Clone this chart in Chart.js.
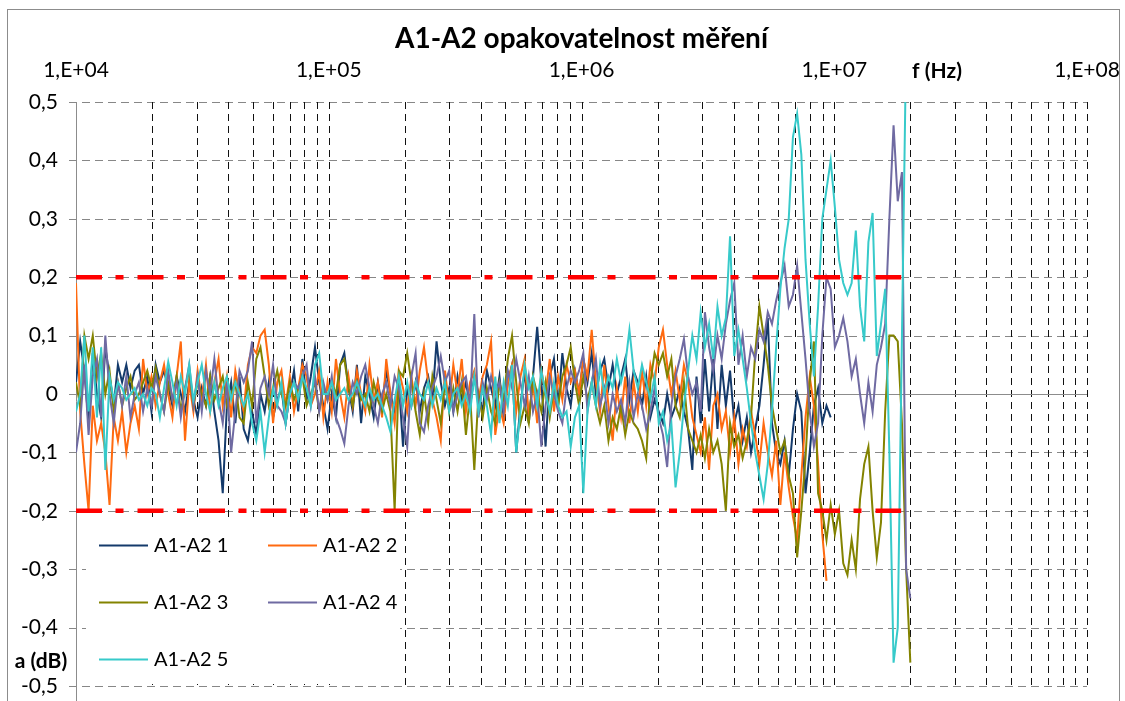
<!DOCTYPE html>
<html>
<head>
<meta charset="utf-8">
<title>A1-A2 opakovatelnost měření</title>
<script src="https://cdn.jsdelivr.net/npm/chart.js@4.4.0/dist/chart.umd.min.js"></script>
<style>
  html, body { margin: 0; padding: 0; background: #fff; }
  #graf { display: block; }
</style>
</head>
<body>
<canvas id="graf" width="1125" height="701"></canvas>
<script>
// measurement sweep: 10 kHz .. 20 MHz, log spaced
const F_START = 1e4;
const F_STOP = 2e7;
const N_POINTS = 200;
const frekvence = [];
for (let i = 0; i < N_POINTS; i++) {
    frekvence.push(F_START * Math.pow(F_STOP / F_START, i / (N_POINTS - 1)));
}

// differences A1-A2 (dB), five repeated measurements
const a1a2_1 = [
    0.02, 0.09, 0.04, -0.05, 0.07, 0.0, -0.04, 0.08, 0.03, -0.02, 0.05, 0.02, 0.05, 0.01, 0.04, 0.05, 0.0, 0.03, -0.03, 0.05,
    0.02, 0.04, 0.01, -0.02, 0.03, 0.0, -0.03, 0.02, -0.01, -0.04, 0.01, -0.02, 0.03, -0.03, -0.08, -0.17, -0.02, 0.02, -0.05, 0.03,
    -0.06, -0.08, -0.03, -0.07, 0.0, -0.03, 0.02, -0.04, -0.01, 0.01, -0.05, 0.0, 0.04, -0.03, 0.06, -0.01, 0.03, 0.08, 0.02, -0.02,
    -0.06, 0.0, -0.04, 0.05, 0.07, 0.01, -0.03, 0.05, -0.05, 0.03, 0.0, -0.04, 0.02, -0.02, 0.04, 0.0, -0.03, 0.02, -0.09, 0.01,
    -0.02, 0.02, -0.03, 0.01, 0.03, -0.01, 0.09, 0.02, -0.02, 0.01, -0.03, 0.03, -0.01, 0.02, -0.02, 0.03, 0.0, -0.03, 0.04, 0.01,
    -0.02, 0.03, -0.04, 0.02, 0.05, -0.1, -0.02, 0.04, -0.05, 0.03, 0.115, 0.02, -0.09, 0.03, 0.06, -0.02, 0.07, 0.01, -0.02, 0.04,
    0.0, 0.06, 0.02, 0.07, 0.0, 0.04, 0.06, 0.01, 0.05, 0.0, 0.03, 0.06, -0.01, 0.04, 0.02, -0.02, 0.03, -0.04, -0.01, -0.03,
    -0.05, 0.0, -0.04, -0.02, 0.01, -0.03, -0.06, -0.13, 0.03, -0.05, 0.06, -0.03, 0.06, -0.06, 0.05, -0.02, 0.04, -0.05, -0.02, -0.08,
    -0.04, -0.1, -0.06, -0.02, 0.05, 0.13, -0.05, -0.1, -0.12, -0.08, -0.14, -0.06, 0.0, -0.03, -0.17, -0.1, -0.02, 0.01, -0.05, -0.02,
    -0.04
];
const a1a2_2 = [
    0.19, -0.03, -0.12, -0.2, -0.02, -0.08, -0.05, -0.1, -0.19, -0.04, -0.08, -0.03, -0.1, -0.05, -0.02, -0.06, 0.06, 0.0, 0.03, -0.02,
    0.02, 0.05, 0.0, -0.04, 0.03, 0.09, -0.08, 0.02, -0.03, 0.04, -0.01, 0.05, -0.03, 0.02, 0.06, -0.02, 0.03, -0.04, 0.04, 0.0,
    -0.03, 0.05, 0.08, 0.07, 0.1, 0.11, 0.05, -0.05, 0.02, 0.04, -0.02, 0.03, -0.03, 0.01, 0.05, 0.03, -0.02, 0.0, 0.04, -0.04,
    0.02, -0.03, 0.06, 0.0, -0.04, 0.03, -0.02, 0.04, 0.0, -0.03, 0.05, -0.01, 0.02, -0.04, 0.06, 0.0, -0.05, 0.04, 0.01, -0.03,
    0.03, -0.02, 0.04, 0.08, 0.02, -0.01, -0.04, -0.08, 0.04, -0.02, 0.05, 0.0, 0.06, -0.03, 0.02, 0.04, -0.01, 0.03, 0.05, 0.09,
    -0.07, -0.02, -0.05, 0.02, 0.05, -0.03, 0.03, 0.06, -0.04, 0.02, -0.05, 0.04, 0.0, 0.06, -0.03, 0.03, -0.01, 0.05, 0.02, 0.04,
    0.0, 0.06, 0.03, 0.11, 0.02, -0.03, 0.05, -0.02, -0.08, 0.01, -0.04, 0.03, -0.05, 0.02, -0.03, 0.04, -0.02, 0.05, 0.02, 0.08,
    0.11, 0.05, 0.0, 0.04, -0.01, 0.05, 0.02, -0.04, -0.07, -0.1, -0.04, -0.13, -0.02, 0.0, -0.06, -0.03, -0.1, -0.04, -0.12, -0.06,
    -0.09, -0.03, -0.07, -0.12, -0.05, -0.1, -0.14, -0.08, -0.19, -0.1, -0.16, -0.21, -0.25, -0.14, -0.04, 0.03, -0.02, -0.12, -0.24, -0.32
];
const a1a2_3 = [
    0.02, -0.02, 0.1, 0.06, 0.1, 0.03, 0.07, 0.0, 0.04, -0.03, 0.02, -0.02, 0.01, 0.03, -0.01, 0.0, 0.02, 0.04, 0.01, 0.045,
    0.0, -0.03, 0.02, -0.01, 0.03, -0.03, 0.01, 0.04, -0.02, 0.02, 0.0, -0.02, 0.03, -0.01, 0.01, 0.03, -0.02, 0.0, 0.02, -0.04,
    -0.05, 0.02, -0.02, 0.06, 0.08, 0.03, -0.02, 0.01, 0.04, 0.0, -0.02, 0.02, -0.01, 0.01, 0.03, -0.02, 0.0, 0.02, -0.03, 0.01,
    -0.01, 0.02, 0.0, 0.05, 0.06, 0.01, -0.02, 0.02, -0.01, 0.0, -0.03, 0.02, -0.01, -0.03, 0.0, -0.03, -0.2, 0.04, 0.03, 0.07,
    0.02, -0.03, -0.07, 0.0, -0.05, 0.03, -0.01, -0.05, 0.02, -0.03, 0.01, -0.03, 0.02, -0.07, 0.0, -0.13, 0.0, -0.04, 0.01, -0.03,
    -0.05, 0.02, -0.01, 0.06, 0.1, 0.02, -0.05, -0.02, -0.05, 0.03, 0.0, -0.03, 0.02, -0.04, 0.01, -0.02, 0.03, 0.05, 0.08, 0.02,
    -0.02, 0.03, -0.01, 0.02, -0.02, -0.05, -0.02, -0.08, -0.04, -0.06, -0.02, -0.07, -0.03, -0.05, -0.06, -0.08, -0.11, 0.02, 0.07, 0.05,
    0.07, 0.03, 0.06, -0.02, -0.04, 0.02, -0.06, -0.08, -0.1, -0.07, -0.11, -0.06, -0.1, -0.08, -0.12, -0.2, -0.05, -0.09, -0.07, -0.11,
    -0.08, -0.04, 0.07, 0.15, 0.1, 0.05, -0.02, -0.06, -0.1, -0.08, -0.14, -0.17, -0.28, -0.2, -0.11, 0.02, 0.09, -0.17, -0.2, -0.25,
    -0.19, -0.24, -0.2, -0.29, -0.31, -0.25, -0.3, -0.18, -0.12, -0.09, -0.2, -0.28, -0.22, -0.03, 0.1, 0.1, 0.09, -0.05, -0.3, -0.46
];
const a1a2_4 = [
    -0.1, -0.05, 0.05, -0.07, 0.03, 0.06, -0.04, 0.1, 0.0, -0.05, 0.02, -0.02, 0.03, -0.04, 0.0, 0.02, -0.03, 0.01, -0.02, 0.03,
    0.0, -0.03, 0.04, -0.01, 0.02, -0.04, 0.01, 0.05, -0.02, 0.03, -0.03, 0.04, 0.0, 0.06, -0.01, -0.05, 0.02, -0.1, -0.03, 0.04,
    0.02, 0.04, 0.09, -0.05, 0.01, 0.03, 0.0, 0.05, -0.02, -0.03, -0.05, 0.0, 0.02, 0.01, 0.03, 0.05, -0.02, 0.03, -0.03, 0.02,
    -0.01, 0.03, -0.04, -0.06, -0.085, -0.02, 0.02, 0.0, 0.03, 0.05, 0.01, -0.02, -0.05, 0.0, 0.02, -0.02, 0.03, 0.01, -0.04, -0.09,
    0.03, 0.07, -0.05, -0.065, -0.02, 0.01, 0.03, 0.065, 0.02, 0.04, -0.03, 0.0, 0.02, 0.03, -0.02, 0.137, -0.04, 0.02, -0.01, 0.03,
    0.0, 0.02, -0.03, 0.04, 0.01, 0.06, 0.02, -0.02, 0.03, -0.03, 0.0, -0.09, -0.02, 0.03, 0.0, -0.03, -0.05, 0.01, 0.04, 0.02,
    0.04, 0.07, -0.03, 0.02, 0.06, -0.02, 0.01, -0.05, 0.0, -0.03, -0.01, -0.05, 0.02, -0.04, 0.0, -0.02, -0.06, -0.03, 0.01, -0.04,
    -0.07, -0.125, -0.02, 0.03, 0.06, 0.094, 0.03, 0.0, 0.02, -0.03, 0.14, 0.08, 0.04, 0.1, 0.06, 0.12, 0.16, 0.19, 0.05, 0.1,
    0.03, 0.08, 0.06, 0.11, 0.09, 0.14, 0.12, 0.16, 0.19, 0.22, 0.15, 0.17, 0.22, 0.14, 0.06, -0.03, -0.09, -0.05, 0.1, 0.2,
    0.18, 0.08, 0.1, 0.13, 0.09, 0.03, 0.06, 0.0, -0.05, 0.02, -0.03, 0.05, 0.08, 0.12, 0.3, 0.46, 0.33, 0.38, -0.3, -0.35
];
const a1a2_5 = [
    -0.03, 0.0, 0.1, -0.03, 0.08, -0.04, 0.08, -0.13, 0.03, -0.01, 0.02, 0.01, -0.01, 0.0, 0.01, -0.01, 0.0, -0.02, 0.01, 0.0,
    -0.04, 0.01, 0.055, 0.02, -0.02, 0.03, 0.0, 0.05, -0.01, 0.02, 0.05, 0.0, -0.03, 0.02, -0.02, 0.01, 0.03, -0.01, 0.02, 0.0,
    -0.02, 0.0, -0.05, -0.08, -0.03, -0.1, -0.04, 0.01, -0.02, 0.02, -0.05, 0.0, 0.02, -0.01, 0.03, 0.01, -0.02, 0.05, 0.07, 0.0,
    0.0, 0.02, -0.01, 0.0, 0.01, -0.01, 0.0, 0.02, 0.0, -0.02, 0.01, -0.01, 0.0, -0.02, -0.04, -0.065, -0.01, 0.03, -0.02, 0.02,
    -0.02, 0.02, 0.0, -0.01, 0.02, -0.02, 0.01, -0.01, 0.02, -0.03, 0.0, 0.01, -0.02, 0.0, -0.03, 0.03, -0.03, 0.01, -0.02, -0.07,
    0.03, -0.05, 0.02, -0.02, 0.05, -0.1, -0.03, 0.05, 0.01, 0.03, -0.02, 0.04, 0.0, -0.03, 0.02, -0.02, -0.04, -0.03, -0.09, -0.04,
    -0.02, -0.17, -0.03, 0.02, -0.02, 0.05, 0.0, 0.03, 0.01, 0.06, 0.02, 0.05, 0.11, 0.04, 0.01, 0.05, 0.02, -0.01, 0.03, -0.05,
    -0.03, -0.08, -0.05, -0.16, -0.1, -0.02, 0.04, 0.1, 0.06, 0.14, 0.08, 0.12, 0.06, 0.15, 0.1, 0.13, 0.27, 0.065, 0.11, 0.06,
    0.01, -0.05, -0.1, -0.14, -0.18, -0.12, -0.03, 0.08, 0.18, 0.25, 0.3, 0.44, 0.48, 0.41, 0.23, 0.12, 0.03, 0.15, 0.3, 0.35,
    0.4, 0.32, 0.23, 0.19, 0.17, 0.19, 0.28, 0.15, 0.09, 0.26, 0.31, 0.065, 0.12, 0.18, -0.1, -0.46, -0.4, 0.1, 0.6
];

const seriesNames = ['A1-A2 1', 'A1-A2 2', 'A1-A2 3', 'A1-A2 4', 'A1-A2 5'];
const seriesColors = ['#143a6b', '#ff6a10', '#838300', '#6f6aa2', '#37caca'];

// tolerance limits +-0.2 dB
const limitLevels = [0.2, -0.2];
const limitFreq = [1e4, 1.84e7];

const decadeTicks = [1e4, 1e5, 1e6, 1e7, 1e8];
const xTickLabels = ['1,E+04', '1,E+05', '1,E+06', '1,E+07', '1,E+08'];
const yTicks = [0.5, 0.4, 0.3, 0.2, 0.1, 0, -0.1, -0.2, -0.3, -0.4, -0.5];
const yTickLabels = ['0,5', '0,4', '0,3', '0,2', '0,1', '0', '-0,1', '-0,2', '-0,3', '-0,4', '-0,5'];

const FONT = 'Lato, "Open Sans", sans-serif';

// minor grid: 2..10 x every decade
const xGrid = [];
decadeTicks.slice(0, -1).forEach(d => {
    for (let m = 2; m <= 10; m++) xGrid.push(m * d);
});

function toPoints(vals) {
    return vals.map((v, i) => ({ x: frekvence[i], y: v }));
}

const series = [a1a2_1, a1a2_2, a1a2_3, a1a2_4, a1a2_5];
const datasets = [];

limitLevels.forEach(level => {
    datasets.push({
        label: 'limit',
        data: limitFreq.map(f => ({ x: f, y: level })),
        borderColor: '#ff0000',
        borderWidth: 4.5,
        borderDash: [26, 13.5, 8, 14],
        borderCapStyle: 'butt',
        pointRadius: 0,
        order: 0
    });
});

series.forEach((vals, k) => {
    datasets.push({
        label: seriesNames[k],
        data: toPoints(vals),
        borderColor: seriesColors[k],
        borderWidth: 2,
        pointRadius: 0,
        tension: 0,
        order: 5 - k
    });
});

const excelFrame = {
    id: 'excelFrame',
    beforeDraw(chart) {
        const ctx = chart.ctx;
        ctx.save();
        ctx.fillStyle = '#fff';
        ctx.fillRect(0, 0, chart.width, chart.height);
        ctx.strokeStyle = '#8c8c8c';
        ctx.lineWidth = 1;
        ctx.strokeRect(7.5, 9.5, 1112, 720);
        ctx.restore();
    },
    beforeDatasetsDraw(chart) {
        const { ctx, chartArea: a, scales: { x, y } } = chart;
        ctx.save();
        ctx.lineWidth = 1;

        // horizontal grid, dashed gray, starting with the tick mark left of the axis
        ctx.strokeStyle = '#878787';
        ctx.setLineDash([8, 5]);
        yTicks.forEach(v => {
            if (v === 0) return;
            const py = Math.round(y.getPixelForValue(v)) + 0.5;
            ctx.beginPath();
            ctx.moveTo(a.left - 7, py);
            ctx.lineTo(a.right, py);
            ctx.stroke();
        });

        // vertical grid, dashed black
        ctx.strokeStyle = '#111';
        ctx.setLineDash([7, 5]);
        xGrid.forEach(f => {
            const px = Math.round(x.getPixelForValue(f)) + 0.5;
            ctx.beginPath();
            ctx.moveTo(px, a.top);
            ctx.lineTo(px, a.bottom);
            ctx.stroke();
        });

        // axis lines
        ctx.setLineDash([]);
        ctx.strokeStyle = '#8c8c8c';
        const y0 = Math.round(y.getPixelForValue(0)) + 0.5;
        ctx.beginPath();
        ctx.moveTo(a.left - 7, y0);
        ctx.lineTo(a.right, y0);
        ctx.stroke();
        const x0 = Math.round(a.left) + 0.5;
        ctx.beginPath();
        ctx.moveTo(x0, a.top);
        ctx.lineTo(x0, chart.height);
        ctx.stroke();
        ctx.restore();
    },
    afterDraw(chart) {
        const { ctx, chartArea: a } = chart;
        ctx.save();

        // legend box inside the plot
        ctx.fillStyle = '#fff';
        ctx.fillRect(86, 521, 314, 163);
        const rows = [545, 602, 659];
        const cols = [99, 268];
        ctx.font = '20px ' + FONT;
        ctx.textBaseline = 'middle';
        ctx.textAlign = 'left';
        seriesNames.forEach((name, k) => {
            const lx = cols[k % 2];
            const ly = rows[Math.floor(k / 2)];
            ctx.strokeStyle = seriesColors[k];
            ctx.lineWidth = 2;
            ctx.beginPath();
            ctx.moveTo(lx, ly + 0.5);
            ctx.lineTo(lx + 49, ly + 0.5);
            ctx.stroke();
            ctx.fillStyle = '#000';
            ctx.fillText(name, lx + 55, ly + 1);
        });

        // chart title and axis titles
        ctx.fillStyle = '#000';
        ctx.textAlign = 'center';
        ctx.textBaseline = 'alphabetic';
        ctx.font = 'bold 28px ' + FONT;
        ctx.fillText('A1-A2 opakovatelnost měření', (a.left + a.right) / 2, 48);
        ctx.font = 'bold 21px ' + FONT;
        ctx.fillText('f (Hz)', 937, 78);
        ctx.fillText('a (dB)', 41, 668);
        ctx.restore();
    }
};

new Chart(document.getElementById('graf'), {
    type: 'line',
    data: { datasets: datasets },
    options: {
        responsive: false,
        animation: false,
        events: [],
        layout: { padding: { left: 0, top: 0, right: 38, bottom: 15 } },
        plugins: {
            legend: { display: false },
            title: { display: false },
            tooltip: { enabled: false }
        },
        scales: {
            x: {
                type: 'logarithmic',
                position: 'top',
                min: 1e4,
                max: 1e8,
                afterBuildTicks: s => { s.ticks = decadeTicks.map(v => ({ value: v })); },
                afterFit: s => {
                    s.height = 102;
                    s.paddingLeft = 0;
                    s.paddingRight = 0;
                },
                grid: { display: false, drawTicks: false },
                border: { display: false },
                ticks: {
                    autoSkip: false,
                    maxRotation: 0,
                    padding: 19,
                    color: '#000',
                    font: { family: FONT, size: 21 },
                    callback: (v, i) => xTickLabels[i]
                }
            },
            y: {
                type: 'linear',
                min: -0.5,
                max: 0.5,
                afterBuildTicks: s => { s.ticks = yTicks.map(v => ({ value: v })); },
                afterFit: s => {
                    s.width = 76;
                    s.paddingTop = 0;
                    s.paddingBottom = 0;
                },
                grid: { display: false, drawTicks: false },
                border: { display: false },
                ticks: {
                    padding: 18,
                    color: '#000',
                    font: { family: FONT, size: 21 },
                    callback: (v, i) => yTickLabels[i]
                }
            }
        }
    },
    plugins: [excelFrame]
});
</script>
</body>
</html>
